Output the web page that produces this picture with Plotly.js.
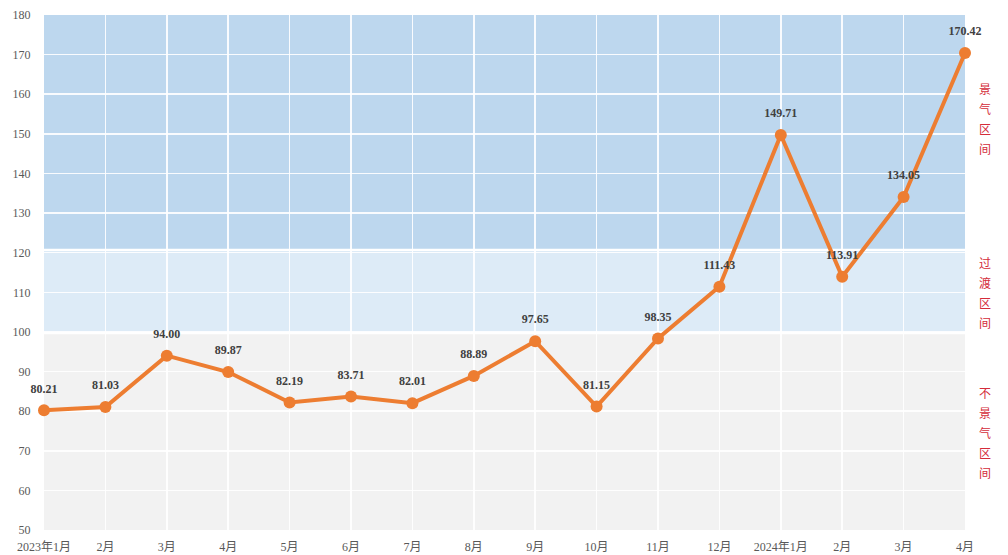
<!DOCTYPE html>
<html><head><meta charset="utf-8">
<script src="https://cdn.plot.ly/plotly-3.0.1.min.js"></script>
<style>html,body{margin:0;padding:0;background:#fff}#c{width:1008px;height:555px}</style>
</head><body><div id="c"></div>
<script>
const tickLabels = ["2023年1月","2月","3月","4月","5月","6月","7月","8月","9月","10月","11月","12月","2024年1月","2月","3月","4月"];
const values = [80.21,81.03,94.00,89.87,82.19,83.71,82.01,88.89,97.65,81.15,98.35,111.43,149.71,113.91,134.05,170.42];
const zoneNames = ["景气区间","过渡区间","不景气区间"];
const zoneBounds = [[121,180],[100,120.4],[50,99.4]];
const zoneColors = ["#BDD7EE","#DDEBF7","#F2F2F2"];
const zoneLabelTop = [161.5,117.5,84.8];

const xs = values.map((v,i)=>i);
const font = "Liberation Serif, Times New Roman, Noto Sans CJK SC, serif";

const shapes = zoneBounds.map((b,i)=>({type:'rect',xref:'paper',yref:'y',x0:0,x1:1,y0:b[0],y1:b[1],fillcolor:zoneColors[i],line:{width:0},layer:'below'}));

const annotations = [];
zoneNames.forEach((n,i)=>{
  n.split('').forEach((ch,j)=>{
    annotations.push({xref:'paper',yref:'y',x:1,xanchor:'center',xshift:20,y:zoneLabelTop[i],yshift:-j*20,
      text:ch,showarrow:false,font:{family:'Noto Sans CJK SC',size:12,color:'#D42C3A'}});
  });
});

const line = {x:xs,y:values,type:'scatter',mode:'lines+markers',
  line:{color:'#ED7D31',width:4},marker:{color:'#ED7D31',size:12},cliponaxis:false,hoverinfo:'skip'};
const labels = {x:xs,y:values,type:'scatter',mode:'markers+text',
  marker:{color:'rgba(0,0,0,0)',size:22},
  text:values.map(v=>v.toFixed(2)),textposition:'top center',
  textfont:{family:font,size:12,color:'#404040',weight:'bold'},cliponaxis:false,hoverinfo:'skip'};

const layout = {
  width:1008,height:555,margin:{l:44,r:43,t:15,b:25},
  paper_bgcolor:'#fff',plot_bgcolor:'rgba(0,0,0,0)',showlegend:false,
  font:{family:font,size:12,color:'#595959'},
  xaxis:{range:[0,15],tickvals:xs,ticktext:tickLabels,showgrid:true,gridcolor:'rgba(255,255,255,0.9)',gridwidth:1.5,
    zeroline:false,showline:false,ticks:'outside',ticklen:6,tickcolor:'rgba(0,0,0,0)',tickfont:{family:font,size:12,color:'#595959'}},
  yaxis:{range:[50,180],dtick:10,tick0:50,showgrid:true,gridcolor:'rgba(255,255,255,0.9)',gridwidth:1.5,
    zeroline:false,showline:false,ticks:'outside',ticklen:10,tickcolor:'rgba(0,0,0,0)',tickfont:{family:font,size:12,color:'#595959'}},
  shapes:shapes,annotations:annotations
};
Plotly.newPlot('c',[line,labels],layout,{displayModeBar:false,staticPlot:true});
</script></body></html>
